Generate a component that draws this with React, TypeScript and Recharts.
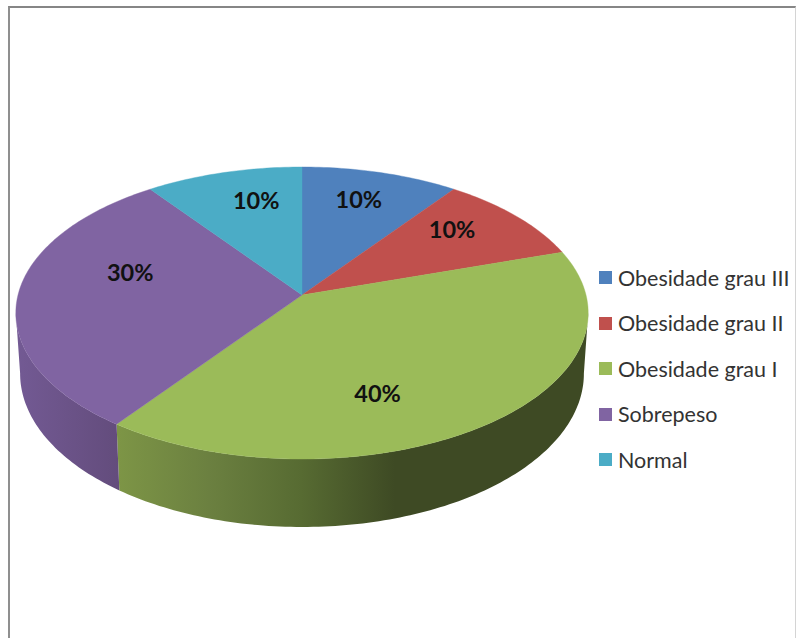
import React from "react";
import { PieChart, Pie, Legend } from "recharts";

const categories = ["Obesidade grau III", "Obesidade grau II", "Obesidade grau I", "Sobrepeso", "Normal"];
const shares = [10, 10, 40, 30, 10];
const faceColors = ["#4f81bd", "#c0504d", "#9bbb59", "#8064a2", "#4bacc6"];

const slices = categories.map((name, i) => ({ name, value: shares[i], fill: faceColors[i] }));

// Tilted-disc projection: the far edge shrinks and the near edge grows.
const PERSPECTIVE = 0.1233;
const TILT = 0.5063;
const DEPTH = 59.6;
const BASE_SCALE = 0.985;
const WALL_FROM = 97;
const WALL_TO = 263;

type Pt = [number, number];

function project(cx: number, cy: number, r: number, clockDeg: number, frac = 1, base = false): Pt {
  const t = (clockDeg * Math.PI) / 180;
  const u = Math.sin(t) * frac;
  const v = -Math.cos(t) * frac;
  const w = 1 - PERSPECTIVE * v;
  const sx = base ? BASE_SCALE : 1;
  return [cx + (sx * r * u) / w, cy + (r * TILT * v) / w + (base ? DEPTH / w : 0)];
}

function sampleArc(cx: number, cy: number, r: number, a0: number, a1: number, base = false): Pt[] {
  const n = Math.max(2, Math.ceil(Math.abs(a1 - a0)));
  const pts: Pt[] = [];
  for (let i = 0; i <= n; i++) pts.push(project(cx, cy, r, a0 + ((a1 - a0) * i) / n, 1, base));
  return pts;
}

const toPath = (pts: Pt[]) => pts.map((p, i) => `${i ? "L" : "M"}${p[0].toFixed(2)},${p[1].toFixed(2)}`).join("") + "Z";

function FaceShape(props: any) {
  const { cx, cy, outerRadius, startAngle, endAngle, fill } = props;
  const pts: Pt[] = [[cx, cy], ...sampleArc(cx, cy, outerRadius, 90 - startAngle, 90 - endAngle)];
  return <path d={toPath(pts)} fill={fill} stroke={fill} strokeWidth={0.4} />;
}

function WallShape(props: any) {
  const { cx, cy, outerRadius, startAngle, endAngle, name } = props;
  const a0 = Math.max(90 - startAngle, WALL_FROM);
  const a1 = Math.min(90 - endAngle, WALL_TO);
  if (a1 <= a0) return <g />;
  const top = sampleArc(cx, cy, outerRadius, a0, a1);
  const bottom = sampleArc(cx, cy, outerRadius, a1, a0, true);
  return <path d={toPath([...top, ...bottom])} fill={`url(#wall-${categories.indexOf(name)})`} />;
}

// Per-slice nudges away from the default radial label spot.
const labelNudge: Pt[] = [[0, -7.5], [-3, -10], [-50, 10], [27, -23], [11, -7]];

function PercentLabel(props: any) {
  const { cx, cy, outerRadius, midAngle, index, value } = props;
  const [x, y] = project(cx, cy, outerRadius, 90 - midAngle, 0.7);
  const [dx, dy] = labelNudge[index];
  return (
    <text x={x + dx} y={y + dy} textAnchor="middle" dominantBaseline="central"
      fontFamily="Lato, sans-serif" fontWeight={700} fontSize={23.5} fill="#111">
      {`${value}%`}
    </text>
  );
}

// The wall layer and the face layer both report entries; only one set is listed.
function LegendList({ payload }: any) {
  const seen = new Set<string>();
  const entries = (payload ?? []).filter((e: any) => {
    if (seen.has(e.value)) return false;
    seen.add(e.value);
    return true;
  });
  return (
    <ul style={{ listStyle: "none", margin: 0, padding: 0 }}>
      {entries.map((entry: any) => (
        <li key={entry.value} style={{ display: "flex", alignItems: "center", height: 45.5 }}>
          <span style={{ width: 13, height: 13, background: entry.color, marginRight: 6, flex: "none" }} />
          <span style={{ fontFamily: "Lato, sans-serif", fontSize: 21.5, color: "#333", whiteSpace: "nowrap" }}>{entry.value}</span>
        </li>
      ))}
    </ul>
  );
}

export default function App() {
  return (
    <div style={{ position: "absolute", left: 0, top: 0, width: 797, height: 638, background: "#fff" }}>
      <div style={{ position: "absolute", left: 8, top: 6, width: 785, height: 632, borderTop: "2px solid #868686", borderLeft: "2px solid #8f8f8f", borderRight: "1px solid #d4d4d4" }} />
      <PieChart width={797} height={638} margin={{ top: 0, right: 0, bottom: 0, left: 0 }} style={{ position: "absolute", left: 0, top: 0 }}>
        <defs>
          <linearGradient id="wall-2" gradientUnits="userSpaceOnUse" x1={118} x2={395} y1={0} y2={0}>
            <stop offset="0" stopColor="#7d9546" />
            <stop offset="0.33" stopColor="#6b8040" />
            <stop offset="0.66" stopColor="#576b32" />
            <stop offset="1" stopColor="#3e4a24" />
          </linearGradient>
          <linearGradient id="wall-3" gradientUnits="userSpaceOnUse" x1={15} x2={120} y1={0} y2={0}>
            <stop offset="0" stopColor="#735a94" />
            <stop offset="1" stopColor="#634c7c" />
          </linearGradient>
        </defs>
        <Pie data={slices} dataKey="value" nameKey="name" cx={302} cy={295} outerRadius={284} startAngle={90} endAngle={-270}
          stroke="none" legendType="none" isAnimationActive={false} shape={WallShape} />
        <Pie data={slices} dataKey="value" nameKey="name" cx={302} cy={295} outerRadius={284} startAngle={90} endAngle={-270}
          stroke="none" isAnimationActive={false} shape={FaceShape} label={PercentLabel} labelLine={false} />
        <Legend layout="vertical" align="right" verticalAlign="middle" content={LegendList} itemSorter={null}
          wrapperStyle={{ left: 599, top: 255, right: "auto", width: 195 }} />
      </PieChart>
    </div>
  );
}
